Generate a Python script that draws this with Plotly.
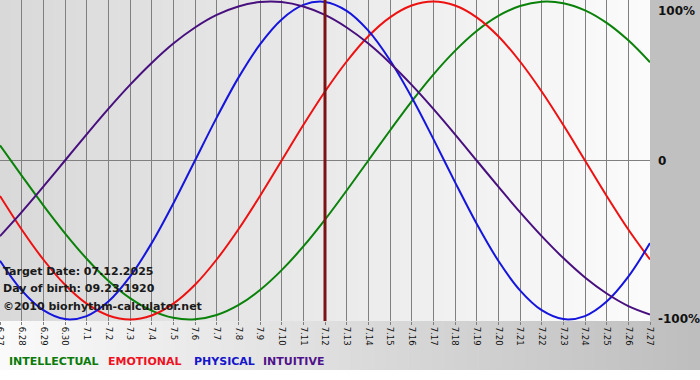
import plotly.graph_objects as go

# ---- data ----
dates = ['6.27', '6.28', '6.29', '6.30', '7.1', '7.2', '7.3', '7.4', '7.5', '7.6',
         '7.7', '7.8', '7.9', '7.10', '7.11', '7.12', '7.13', '7.14', '7.15', '7.16',
         '7.17', '7.18', '7.19', '7.20', '7.21', '7.22', '7.23', '7.24', '7.25', '7.26', '7.27']

physical = [-63.1, -81.7, -94.2, -99.8, -97.9, -88.8, -73.1, -52.0, -27.0, 0.0,
            27.0, 52.0, 73.1, 88.8, 97.9, 99.8, 94.2, 81.7, 63.1, 39.8,
            13.6, -13.6, -39.8, -63.1, -81.7, -94.2, -99.8, -97.9, -88.8, -73.1, -52.0]

emotional = [-22.3, -43.4, -62.3, -78.2, -90.1, -97.5, -100.0, -97.5, -90.1, -78.2,
             -62.3, -43.4, -22.3, 0.0, 22.3, 43.4, 62.3, 78.2, 90.1, 97.5,
             100.0, 97.5, 90.1, 78.2, 62.3, 43.4, 22.3, 0.0, -22.3, -43.4, -62.3]

intellectual = [9.5, -9.5, -28.2, -45.8, -61.8, -75.6, -86.6, -94.5, -99.0, -99.9,
                -97.2, -91.0, -81.5, -69.0, -54.1, -37.2, -18.9, 0.0, 18.9, 37.2,
                54.1, 69.0, 81.5, 91.0, 97.2, 99.9, 99.0, 94.5, 86.6, 75.6, 61.8]

intuitive = [-47.6, -32.5, -16.5, 0.0, 16.5, 32.5, 47.6, 61.4, 73.6, 83.7,
             91.6, 96.9, 99.7, 99.7, 96.9, 91.6, 83.7, 73.6, 61.4, 47.6,
             32.5, 16.5, 0.0, -16.5, -32.5, -47.6, -61.4, -73.6, -83.7, -91.6, -96.9]

target_label = '7.12'
target_date = '07.12.2025'
birth_date = '09.23.1920'
copyright_text = '©2010 biorhythm-calculator.net'

y_tick_vals = [100, 0, -100]
y_tick_text = ['100%', '0', '-100%']

series_names = ['INTELLECTUAL', 'EMOTIONAL', 'PHYSICAL', 'INTUITIVE']
series_values = [intellectual, emotional, physical, intuitive]
series_colors = ['#0a820a', '#ee1111', '#1515dd', '#48107e']
legend_colors = ['#0a7a0a', '#ee1122', '#1515cc', '#50128a']

# ---- layout geometry ----
W, H = 700, 380
ML, MR, MT, MB = 0, 50, 0, 59
PW, PH = W - ML - MR, H - MT - MB


def px_x(p):
    return (p - ML) / PW


def px_y(p):
    return (MT + PH - p) / PH


def lerp_gray(a, b, t):
    v = int(round(a + (b - a) * t))
    return f'rgb({v},{v},{v})'


fig = go.Figure()

for name, vals, col in zip(series_names, series_values, series_colors):
    fig.add_trace(go.Scatter(
        x=dates, y=vals, mode='lines', name=name,
        line=dict(color=col, width=2, shape='spline', smoothing=1.0),
        showlegend=False, hoverinfo='skip'))

shapes = []
# plot background gradient
N = 60
for i in range(N):
    shapes.append(dict(type='rect', xref='paper', yref='paper',
                       x0=i / N, x1=(i + 1.05) / N, y0=0, y1=1,
                       fillcolor=lerp_gray(217, 251, i / (N - 1)),
                       line=dict(width=0), layer='below'))
# right margin
shapes.append(dict(type='rect', xref='paper', yref='paper',
                   x0=1, x1=px_x(W + 2), y0=px_y(370), y1=1,
                   fillcolor='#c0c0c0', line=dict(width=0), layer='below'))
# bottom strip gradient
for i in range(N):
    shapes.append(dict(type='rect', xref='paper', yref='paper',
                       x0=px_x(W * i / N), x1=px_x(W * (i + 1.05) / N),
                       y0=px_y(370), y1=0,
                       fillcolor=lerp_gray(250, 190, i / (N - 1)),
                       line=dict(width=0), layer='below'))
# target date line
ti = dates.index(target_label)
shapes.append(dict(type='line', xref='x', yref='paper', x0=ti, x1=ti, y0=0, y1=1,
                   line=dict(color='#7a1414', width=3), layer='above'))

annotations = []
info_lines = [f'Target Date: {target_date}', f'Day of birth: {birth_date}', copyright_text]
for k, txt in enumerate(info_lines):
    annotations.append(dict(text=txt, xref='paper', yref='paper',
                            x=px_x(1), y=px_y(271 + 17.5 * k), xanchor='left', yanchor='middle',
                            showarrow=False,
                            font=dict(family='DejaVu Sans', size=11, color='#1a1a1a', weight='bold')))

# right-side value labels
for v, t in zip(y_tick_vals, y_tick_text):
    annotations.append(dict(text=t, xref='paper', yref='y', x=px_x(656), y=v,
                            xanchor='left', yanchor='top' if v == max(y_tick_vals) else 'middle',
                            showarrow=False,
                            font=dict(family='DejaVu Sans', size=12, color='#111111', weight='bold')))

# legend words
legend_x = [7, 106, 192, 261]
for name, col, lx in zip(series_names, legend_colors, legend_x):
    annotations.append(dict(text=name, xref='paper', yref='paper',
                            x=px_x(lx), y=px_y(362), xanchor='left', yanchor='middle',
                            showarrow=False,
                            font=dict(family='DejaVu Sans', size=11, color=col, weight='bold')))

fig.update_layout(
    width=W, height=H,
    margin=dict(l=ML, r=MR, t=MT, b=MB, pad=0, autoexpand=False),
    paper_bgcolor='#ffffff', plot_bgcolor='rgba(0,0,0,0)',
    shapes=shapes, annotations=annotations,
    xaxis=dict(type='category', range=[0, len(dates) - 1], showgrid=True,
               gridcolor='#808080', gridwidth=1.2, zeroline=False, showline=False,
               tickangle=90, ticks='outside', ticklen=3, tickcolor='#808080',
               tickwidth=1.2,
               tickfont=dict(family='DejaVu Sans', size=8.5, color='#111111'),
               fixedrange=True, automargin=False),
    yaxis=dict(range=[-101, 101], showgrid=False, showticklabels=False,
               zeroline=True, zerolinecolor='#808080', zerolinewidth=1.2,
               showline=False, fixedrange=True, automargin=False),
)

fig.write_html('out.html', config={'displayModeBar': False},
               post_script="document.body.style.margin='0px';document.body.style.padding='0px';")
